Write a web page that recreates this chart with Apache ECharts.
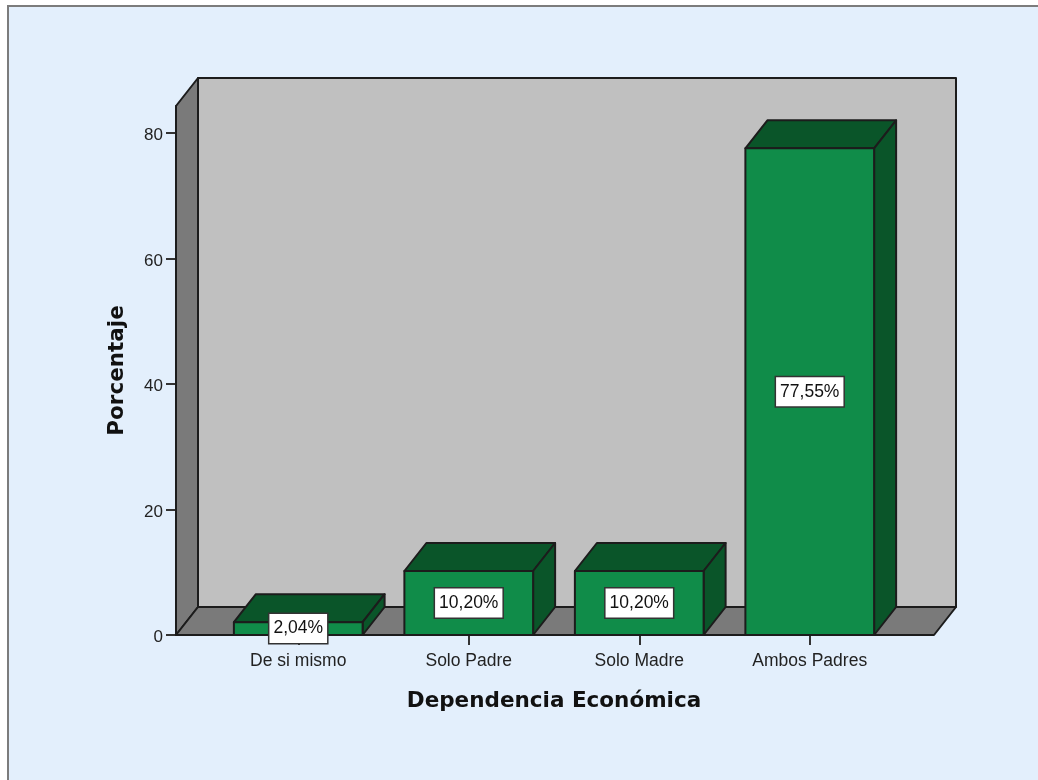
<!DOCTYPE html>
<html>
<head>
<meta charset="utf-8">
<style>html,body{margin:0;padding:0;background:#fff}#c{width:1038px;height:780px}</style>
<script src="https://cdn.jsdelivr.net/npm/echarts@6/dist/echarts.min.js"></script>
</head>
<body>
<div id="c"></div>
<script>
const categories = ['De si mismo', 'Solo Padre', 'Solo Madre', 'Ambos Padres'];
const values = [2.04, 10.20, 10.20, 77.55];
const yTicks = [0, 20, 40, 60, 80];
const xTitle = 'Dependencia Económica';
const yTitle = 'Porcentaje';

const depthX = 22, depthY = 28, padL = 37, padR = 39;
const edge = '#1c1c1c', front = '#108c49', dark = '#0a5529', wall = '#c0c0c0', side = '#7a7a7a';
const labelFont = '"Liberation Sans", Arial, sans-serif';
const fmt = v => v.toFixed(2).replace('.', ',') + '%';

const chart = echarts.init(document.getElementById('c'), null, {renderer: 'canvas'});

function poly(points, fill) {
  return {type: 'polygon', shape: {points},
    style: {fill, stroke: edge, lineWidth: 2, lineJoin: 'round'}};
}

function renderWalls(params, api) {
  const g = params.coordSys;
  const l = g.x - padL, r = g.x + g.width + padR, t = g.y, b = g.y + g.height;
  return {type: 'group', children: [
    poly([[l + depthX, t - depthY], [r + depthX, t - depthY], [r + depthX, b - depthY], [l + depthX, b - depthY]], wall),
    poly([[l, t], [l + depthX, t - depthY], [l + depthX, b - depthY], [l, b]], side),
    poly([[l, b], [l + depthX, b - depthY], [r + depthX, b - depthY], [r, b]], side)
  ]};
}

function renderBar(params, api) {
  const top = api.coord([api.value(0), api.value(1)]);
  const base = api.coord([api.value(0), 0]);
  const w = api.size([1, 0])[0] * 0.755;
  const x0 = top[0] - w / 2, x1 = top[0] + w / 2, y0 = top[1], y1 = base[1];
  return {type: 'group', children: [
    poly([[x0, y0], [x0 + depthX, y0 - depthY], [x1 + depthX, y0 - depthY], [x1, y0]], dark),
    poly([[x1, y0], [x1 + depthX, y0 - depthY], [x1 + depthX, y1 - depthY], [x1, y1]], dark),
    poly([[x0, y0], [x1, y0], [x1, y1], [x0, y1]], front),
    {type: 'text', z2: 10, style: {
      x: top[0], y: (y0 + y1) / 2, text: fmt(api.value(1)),
      align: 'center', verticalAlign: 'middle',
      font: '17.5px ' + labelFont, fill: '#111',
      backgroundColor: '#fff', borderColor: '#333', borderWidth: 1.5,
      padding: [6, 4, 5, 4]
    }}
  ]};
}

chart.setOption({
  animation: false,
  backgroundColor: '#fff',
  graphic: [{
    type: 'rect', z: -10, silent: true,
    shape: {x: 8, y: 6, width: 1100, height: 900},
    style: {fill: '#e3effc', stroke: '#7c7c7c', lineWidth: 2}
  }],
  grid: {left: 213, right: 143, top: 106, bottom: 145, containLabel: false},
  xAxis: {
    type: 'category', data: categories, boundaryGap: true,
    axisLine: {show: true, lineStyle: {color: edge, width: 2}},
    axisTick: {show: true, alignWithLabel: true, length: 10, lineStyle: {color: '#333', width: 2}},
    axisLabel: {margin: 17, color: '#222', fontSize: 17.5, fontFamily: labelFont},
    name: xTitle, nameLocation: 'middle', nameGap: 55,
    nameTextStyle: {fontSize: 21.5, fontWeight: 'bold', color: '#111', fontFamily: '"DejaVu Sans", sans-serif'}
  },
  yAxis: {
    type: 'value', min: 0, max: 84.3, interval: 20, offset: 37,
    splitLine: {show: false},
    axisLine: {show: true, onZero: false, lineStyle: {color: edge, width: 2}},
    axisTick: {show: true, customValues: yTicks, length: 10, lineStyle: {color: '#333', width: 2}},
    axisLabel: {margin: 13, color: '#222', fontSize: 17, fontFamily: labelFont, customValues: yTicks,
      formatter: v => '{n|' + v + '}',
      rich: {n: {fontSize: 17, fontFamily: labelFont, color: '#222', padding: [5, 0, 0, 0]}}},
    name: yTitle, nameLocation: 'middle', nameGap: 48,
    nameTextStyle: {fontSize: 21.5, fontWeight: 'bold', color: '#111', fontFamily: '"DejaVu Sans", sans-serif'}
  },
  series: [
    {type: 'custom', name: 'walls', silent: true, z: 1, renderItem: renderWalls, data: [0], encode: {x: 0, y: 0}, clip: false},
    {type: 'custom', name: 'Porcentaje', z: 3, renderItem: renderBar, clip: false,
      data: categories.map((c, i) => [i, values[i]]), encode: {x: 0, y: 1}}
  ]
});
</script>
</body>
</html>
